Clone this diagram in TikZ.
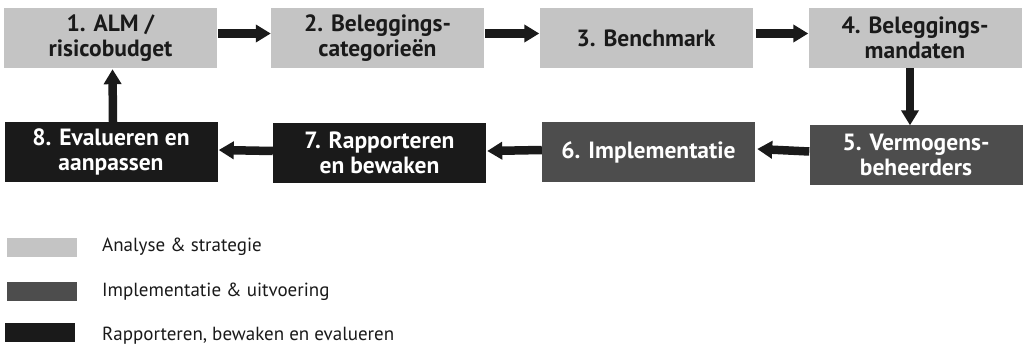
\documentclass[tikz,border=0pt]{standalone}
\usepackage{fontspec}
\setmainfont{PT Sans}
\usetikzlibrary{arrows.meta}
\definecolor{cLight}{HTML}{C4C4C4}
\definecolor{cDark}{HTML}{4D4D4D}
\definecolor{cBlack}{HTML}{1A1A1A}
\tikzset{
  box/.style={minimum width=213pt, minimum height=60pt, inner sep=0pt, align=center,
    font=\bfseries\fontsize{23.5}{25}\selectfont},
  lightbox/.style={box, fill=cLight, text=cBlack},
  darkbox/.style={box, fill=cDark, text=white},
  blackbox/.style={box, fill=cBlack, text=white},
  arr/.style={draw=cBlack, line width=8.5pt, -{Triangle[length=15pt,width=17pt]}},
  swatch/.style={minimum width=70pt, minimum height=19pt, inner sep=0pt},
  legtext/.style={anchor=base west, inner sep=0pt, text=cBlack, font=\fontsize{19}{20}\selectfont}
}
\begin{document}
\begin{tikzpicture}[x=1pt,y=-1pt]
\useasboundingbox[fill=white] (0,0) rectangle (1023,348);
\node[lightbox] (b1) at (110.5,38) {1. ALM /\\risicobudget};
\node[lightbox] (b2) at (377.5,38) {2. Beleggings-\\categorieën};
\node[lightbox] (b3) at (646,38) {3. Benchmark};
\node[lightbox] (b4) at (915,38) {4. Beleggings-\\mandaten};
\node[darkbox] (b5) at (916,154.5) {5. Vermogens-\\beheerders};
\node[darkbox] (b6) at (648.5,152) {6. Implementatie};
\node[blackbox] (b7) at (379.5,153) {7. Rapporteren\\en bewaken};
\node[blackbox] (b8) at (111,152) {8. Evalueren en\\aanpassen};
\draw[arr] ([shift={(1pt,4.5pt)}]b1.east) -- ([shift={(0pt,4.5pt)}]b2.west);
\draw[arr] ([shift={(1pt,4.5pt)}]b2.east) -- ([shift={(0pt,4.5pt)}]b3.west);
\draw[arr] ([shift={(3pt,4.5pt)}]b3.east) -- ([shift={(0pt,4.5pt)}]b4.west);
\draw[arr] ([shift={(-5pt,0pt)}]b4.south) -- ([shift={(-6pt,-1pt)}]b5.north);
\draw[arr] ([shift={(0pt,3pt)}]b5.west) -- ([shift={(2pt,3pt)}]b6.east);
\draw[arr] ([shift={(0pt,2pt)}]b6.west) -- ([shift={(1pt,2pt)}]b7.east);
\draw[arr] ([shift={(0pt,2pt)}]b7.west) -- ([shift={(1pt,2pt)}]b8.east);
\draw[arr] ([shift={(2pt,0pt)}]b8.north) -- ([shift={(2pt,-1pt)}]b1.south);
\node[swatch, fill=cLight] (s1) at (42,247) {};
\node[swatch, fill=cDark] (s2) at (42,291) {};
\node[swatch, fill=cBlack] (s3) at (40,332.5) {};
\node[legtext] (l1) at (102,251) {Analyse \& strategie};
\node[legtext] (l2) at (102,296) {Implementatie \& uitvoering};
\node[legtext] (l3) at (102,340) {Rapporteren, bewaken en evalueren};
\end{tikzpicture}
\end{document}
